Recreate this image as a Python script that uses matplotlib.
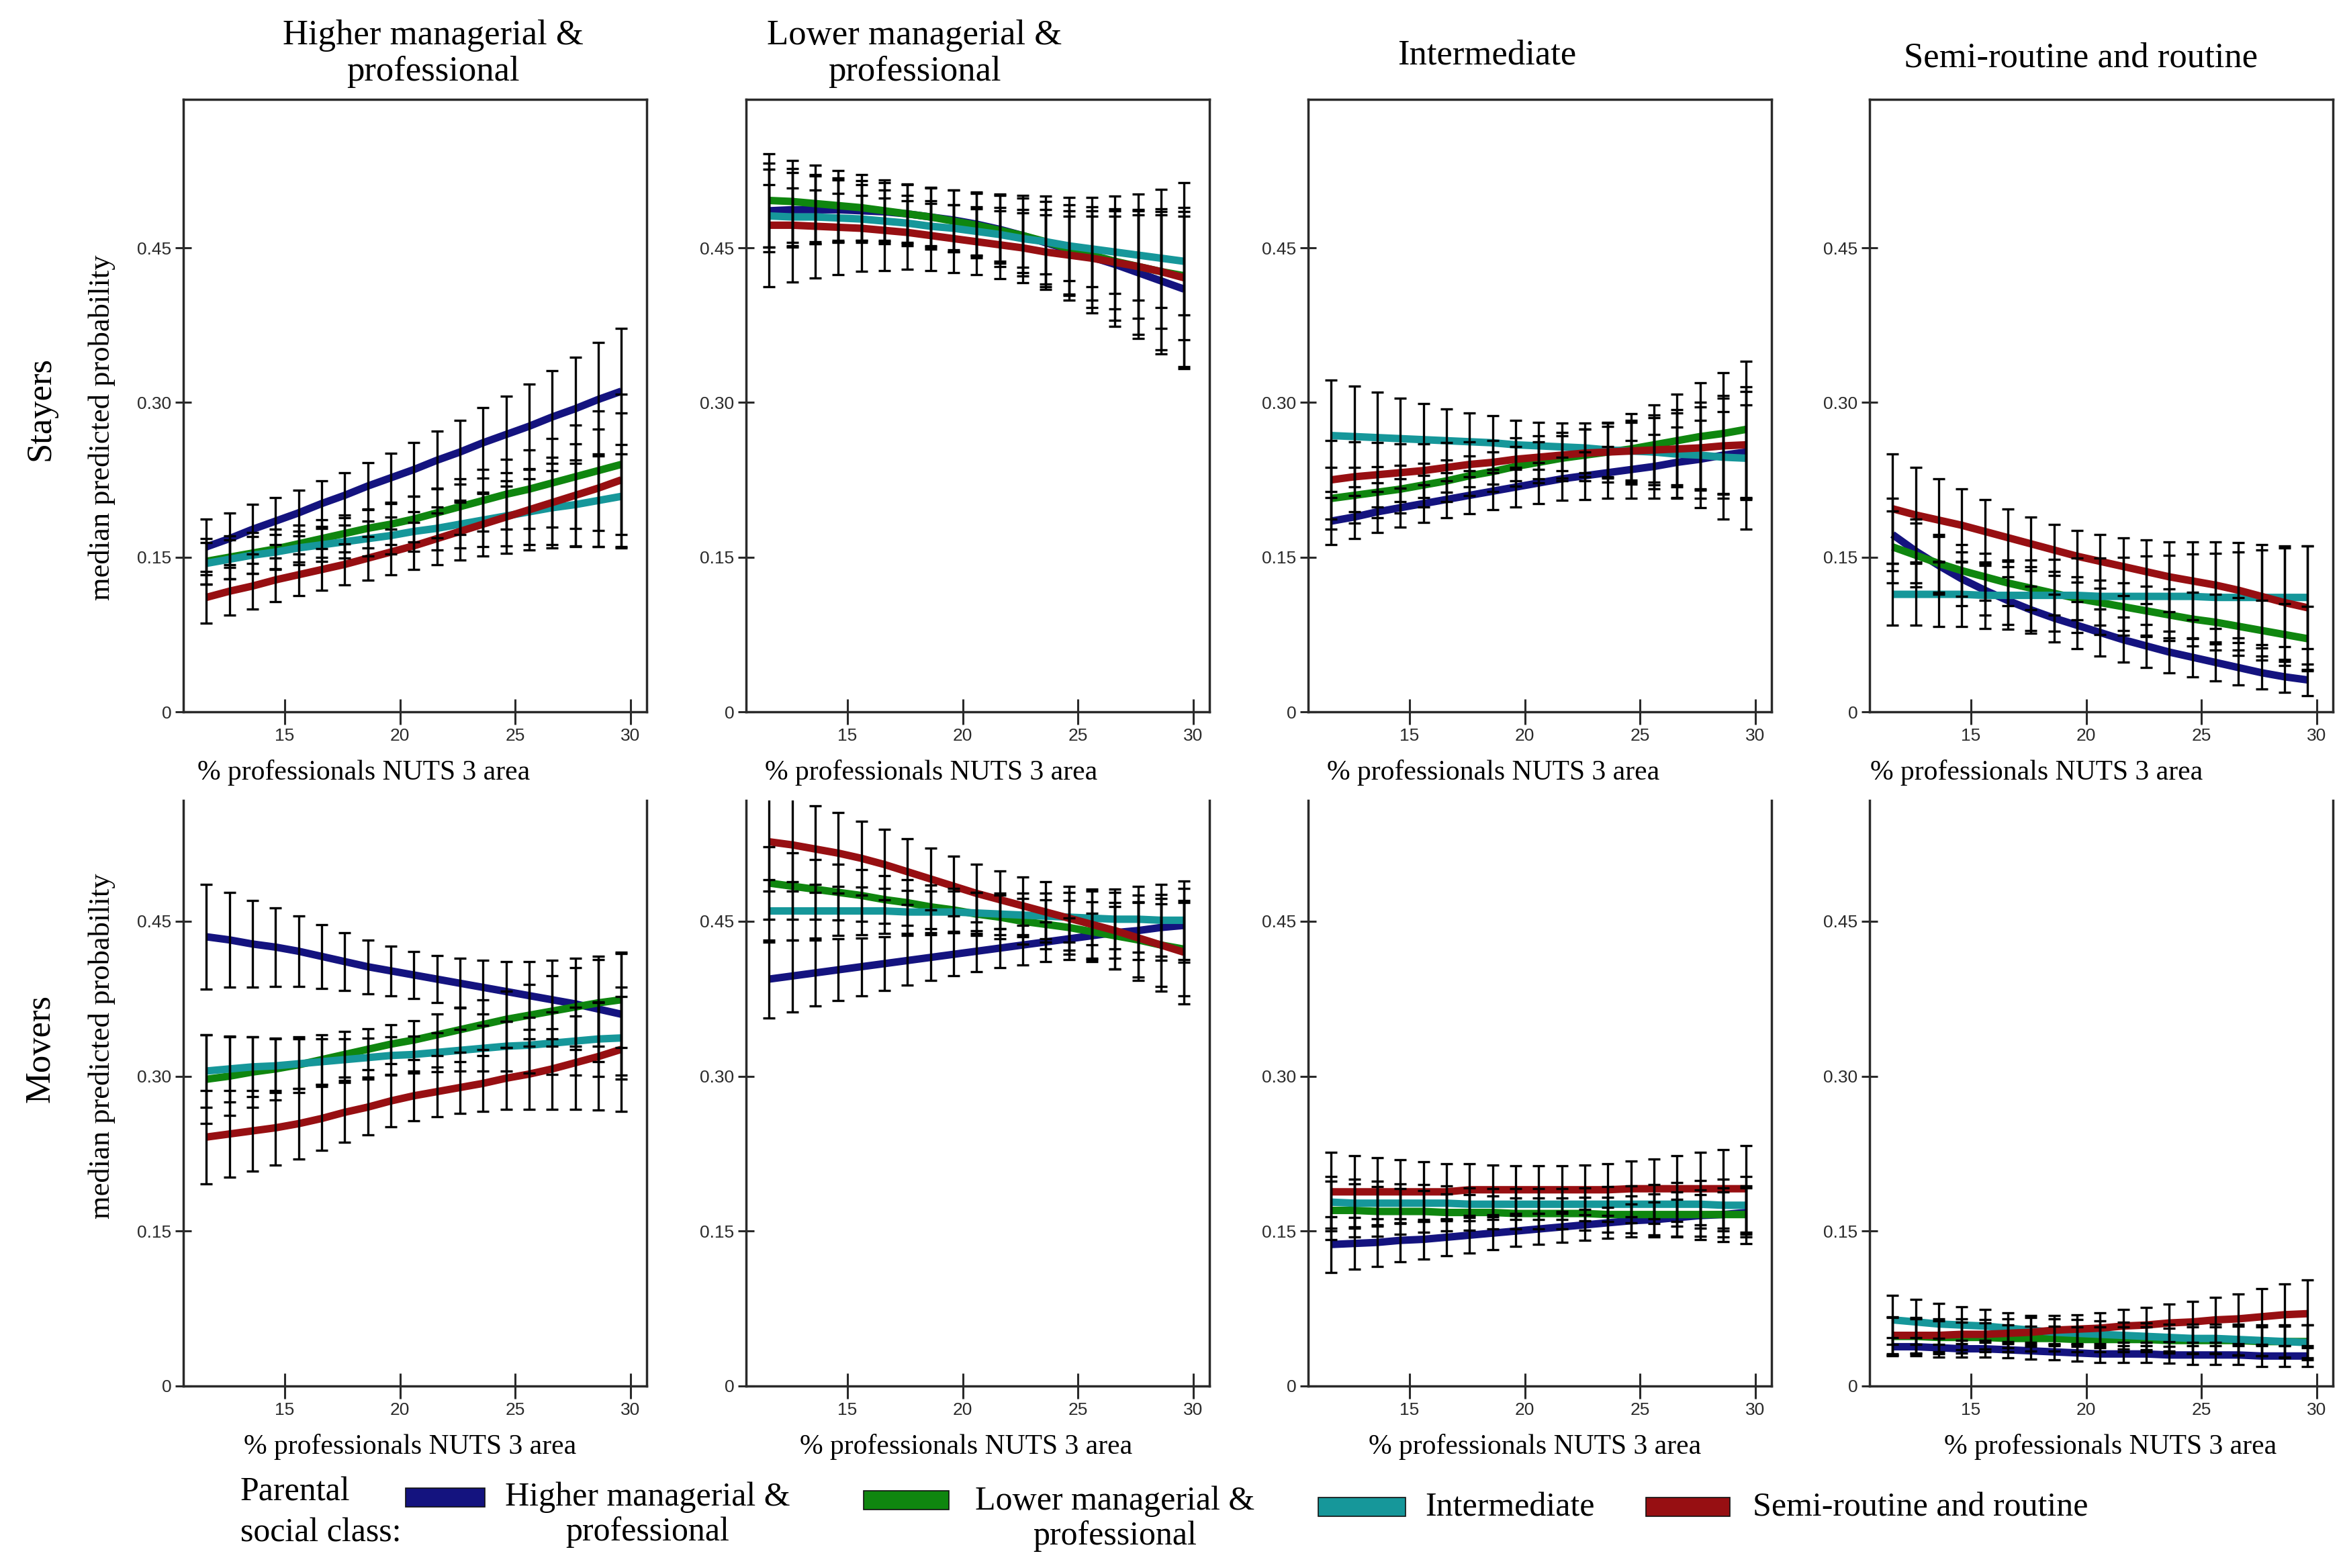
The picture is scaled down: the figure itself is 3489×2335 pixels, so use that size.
import matplotlib
matplotlib.use("Agg")
import matplotlib.pyplot as plt
from matplotlib.patches import Rectangle

plt.rcParams["font.family"] = ["Liberation Serif", "DejaVu Serif"]

# ── data ──────────────────────────────────────────────────────────────────────
PCT = [11.6, 12.6, 13.6, 14.6, 15.6, 16.6, 17.6, 18.6, 19.6, 20.6,
       21.6, 22.6, 23.6, 24.6, 25.6, 26.6, 27.6, 28.6, 29.6]

CLASSES = ["Higher managerial & professional", "Lower managerial & professional",
           "Intermediate", "Semi-routine and routine"]
LEGEND_LABELS = ["Higher managerial &\nprofessional", "Lower managerial &\nprofessional",
                 "Intermediate", "Semi-routine and routine"]
COLUMN_TITLES = ["Higher managerial &\nprofessional", "Lower managerial &\nprofessional",
                 "Intermediate", "Semi-routine and routine"]
ROW_NAMES = ["Stayers", "Movers"]
Y_TICKS = [0, 0.15, 0.30, 0.45]
Y_TICK_LABELS = ["0", "0.15", "0.30", "0.45"]
X_TICKS = [15, 20, 25, 30]

# median predicted probability, one list per parental class (blue, green, teal, red)
stay_higher = [
    [0.160, 0.168, 0.177, 0.185, 0.193, 0.202, 0.210, 0.219, 0.227, 0.235, 0.244, 0.252, 0.261, 0.269, 0.277, 0.286, 0.294, 0.303, 0.311],
    [0.146, 0.150, 0.154, 0.158, 0.163, 0.168, 0.173, 0.178, 0.182, 0.187, 0.193, 0.199, 0.205, 0.211, 0.216, 0.222, 0.228, 0.234, 0.240],
    [0.144, 0.148, 0.152, 0.155, 0.159, 0.162, 0.165, 0.168, 0.171, 0.175, 0.178, 0.182, 0.186, 0.190, 0.194, 0.198, 0.201, 0.205, 0.209],
    [0.111, 0.117, 0.122, 0.128, 0.133, 0.138, 0.143, 0.149, 0.155, 0.161, 0.168, 0.175, 0.182, 0.189, 0.196, 0.203, 0.210, 0.217, 0.225],
]
stay_higher_ci = [
    [0.027, 0.025, 0.024, 0.023, 0.022, 0.022, 0.022, 0.023, 0.024, 0.026, 0.028, 0.031, 0.034, 0.037, 0.041, 0.045, 0.050, 0.055, 0.061],
    [0.022, 0.021, 0.020, 0.019, 0.018, 0.018, 0.018, 0.019, 0.020, 0.022, 0.024, 0.027, 0.030, 0.034, 0.038, 0.043, 0.050, 0.058, 0.068],
    [0.020, 0.019, 0.018, 0.017, 0.016, 0.016, 0.016, 0.017, 0.018, 0.019, 0.021, 0.023, 0.026, 0.029, 0.032, 0.036, 0.040, 0.045, 0.050],
    [0.025, 0.023, 0.022, 0.021, 0.020, 0.020, 0.020, 0.021, 0.022, 0.023, 0.025, 0.028, 0.031, 0.035, 0.039, 0.044, 0.050, 0.057, 0.065],
]

stay_lower = [
    [0.486, 0.487, 0.487, 0.487, 0.486, 0.485, 0.483, 0.480, 0.477, 0.473, 0.468, 0.462, 0.455, 0.448, 0.441, 0.434, 0.426, 0.418, 0.410],
    [0.496, 0.495, 0.493, 0.491, 0.489, 0.486, 0.483, 0.480, 0.476, 0.472, 0.467, 0.462, 0.456, 0.449, 0.443, 0.437, 0.432, 0.427, 0.423],
    [0.481, 0.480, 0.480, 0.479, 0.478, 0.476, 0.474, 0.471, 0.469, 0.466, 0.463, 0.459, 0.456, 0.452, 0.449, 0.446, 0.443, 0.440, 0.437],
    [0.472, 0.472, 0.471, 0.470, 0.469, 0.467, 0.465, 0.462, 0.459, 0.456, 0.453, 0.450, 0.446, 0.443, 0.440, 0.436, 0.432, 0.427, 0.421],
]
stay_lower_ci = [
    [0.040, 0.036, 0.033, 0.031, 0.029, 0.028, 0.028, 0.028, 0.029, 0.030, 0.033, 0.036, 0.040, 0.044, 0.049, 0.054, 0.060, 0.067, 0.075],
    [0.045, 0.040, 0.037, 0.034, 0.032, 0.030, 0.029, 0.029, 0.030, 0.032, 0.035, 0.039, 0.044, 0.050, 0.056, 0.063, 0.070, 0.080, 0.090],
    [0.030, 0.028, 0.026, 0.024, 0.023, 0.022, 0.022, 0.022, 0.023, 0.024, 0.026, 0.028, 0.031, 0.034, 0.037, 0.040, 0.044, 0.048, 0.052],
    [0.060, 0.055, 0.050, 0.046, 0.042, 0.039, 0.036, 0.034, 0.033, 0.032, 0.033, 0.034, 0.036, 0.038, 0.041, 0.045, 0.050, 0.055, 0.060],
]

stay_inter = [
    [0.185, 0.189, 0.194, 0.198, 0.202, 0.206, 0.210, 0.214, 0.218, 0.222, 0.226, 0.229, 0.232, 0.235, 0.238, 0.242, 0.245, 0.249, 0.252],
    [0.207, 0.210, 0.213, 0.216, 0.220, 0.224, 0.229, 0.233, 0.238, 0.242, 0.246, 0.249, 0.252, 0.255, 0.259, 0.263, 0.267, 0.270, 0.274],
    [0.268, 0.267, 0.266, 0.265, 0.264, 0.263, 0.262, 0.261, 0.259, 0.258, 0.257, 0.256, 0.254, 0.253, 0.252, 0.250, 0.249, 0.247, 0.246],
    [0.225, 0.228, 0.230, 0.232, 0.234, 0.237, 0.240, 0.242, 0.245, 0.247, 0.249, 0.251, 0.252, 0.253, 0.254, 0.255, 0.256, 0.258, 0.259],
]
stay_inter_ci = [
    [0.023, 0.021, 0.020, 0.019, 0.018, 0.018, 0.018, 0.018, 0.019, 0.020, 0.021, 0.023, 0.025, 0.028, 0.031, 0.034, 0.038, 0.042, 0.046],
    [0.030, 0.027, 0.025, 0.023, 0.021, 0.020, 0.019, 0.019, 0.019, 0.020, 0.022, 0.025, 0.029, 0.034, 0.039, 0.045, 0.052, 0.059, 0.066],
    [0.054, 0.049, 0.044, 0.039, 0.035, 0.031, 0.028, 0.026, 0.024, 0.023, 0.023, 0.024, 0.026, 0.030, 0.036, 0.043, 0.051, 0.060, 0.069],
    [0.038, 0.034, 0.031, 0.028, 0.026, 0.024, 0.022, 0.021, 0.021, 0.021, 0.022, 0.023, 0.025, 0.028, 0.031, 0.035, 0.040, 0.046, 0.052],
]

stay_routine = [
    [0.172, 0.156, 0.142, 0.129, 0.118, 0.108, 0.099, 0.091, 0.084, 0.077, 0.070, 0.064, 0.058, 0.053, 0.048, 0.043, 0.038, 0.034, 0.031],
    [0.160, 0.152, 0.144, 0.137, 0.131, 0.125, 0.120, 0.115, 0.110, 0.106, 0.102, 0.098, 0.094, 0.090, 0.087, 0.083, 0.079, 0.075, 0.071],
    [0.114, 0.114, 0.114, 0.114, 0.113, 0.113, 0.113, 0.113, 0.113, 0.112, 0.112, 0.112, 0.112, 0.112, 0.111, 0.111, 0.111, 0.111, 0.111],
    [0.197, 0.191, 0.186, 0.181, 0.175, 0.169, 0.163, 0.157, 0.151, 0.146, 0.141, 0.136, 0.131, 0.127, 0.123, 0.118, 0.112, 0.106, 0.101],
]
stay_routine_ci = [
    [0.035, 0.031, 0.028, 0.026, 0.024, 0.023, 0.023, 0.023, 0.023, 0.023, 0.022, 0.021, 0.020, 0.019, 0.018, 0.017, 0.016, 0.015, 0.015],
    [0.035, 0.031, 0.028, 0.025, 0.023, 0.022, 0.021, 0.021, 0.021, 0.022, 0.023, 0.024, 0.025, 0.026, 0.027, 0.028, 0.029, 0.030, 0.031],
    [0.030, 0.030, 0.031, 0.031, 0.032, 0.033, 0.034, 0.035, 0.036, 0.037, 0.038, 0.039, 0.040, 0.041, 0.043, 0.044, 0.046, 0.048, 0.050],
    [0.053, 0.046, 0.040, 0.035, 0.031, 0.028, 0.026, 0.025, 0.025, 0.026, 0.028, 0.031, 0.034, 0.038, 0.042, 0.046, 0.050, 0.055, 0.060],
]

move_higher = [
    [0.435, 0.432, 0.428, 0.425, 0.421, 0.416, 0.411, 0.406, 0.402, 0.398, 0.394, 0.390, 0.386, 0.382, 0.378, 0.374, 0.370, 0.365, 0.360],
    [0.297, 0.300, 0.304, 0.307, 0.311, 0.316, 0.321, 0.326, 0.331, 0.335, 0.340, 0.345, 0.350, 0.355, 0.359, 0.363, 0.367, 0.371, 0.374],
    [0.305, 0.307, 0.309, 0.310, 0.312, 0.314, 0.316, 0.318, 0.320, 0.321, 0.323, 0.325, 0.327, 0.329, 0.330, 0.332, 0.334, 0.336, 0.337],
    [0.241, 0.244, 0.247, 0.250, 0.254, 0.259, 0.265, 0.270, 0.276, 0.281, 0.285, 0.289, 0.293, 0.298, 0.302, 0.307, 0.313, 0.319, 0.326],
]
move_higher_ci = [
    [0.051, 0.046, 0.042, 0.038, 0.034, 0.031, 0.028, 0.026, 0.024, 0.023, 0.023, 0.024, 0.026, 0.029, 0.033, 0.038, 0.044, 0.051, 0.059],
    [0.043, 0.038, 0.034, 0.030, 0.027, 0.024, 0.022, 0.020, 0.019, 0.019, 0.020, 0.022, 0.024, 0.027, 0.030, 0.034, 0.038, 0.042, 0.046],
    [0.035, 0.032, 0.029, 0.026, 0.024, 0.022, 0.020, 0.019, 0.018, 0.018, 0.019, 0.020, 0.022, 0.024, 0.027, 0.030, 0.033, 0.036, 0.040],
    [0.045, 0.042, 0.039, 0.036, 0.034, 0.031, 0.029, 0.027, 0.025, 0.024, 0.024, 0.025, 0.027, 0.030, 0.034, 0.039, 0.045, 0.052, 0.060],
]

move_lower = [
    [0.394, 0.397, 0.400, 0.403, 0.406, 0.409, 0.412, 0.415, 0.418, 0.421, 0.424, 0.427, 0.430, 0.433, 0.436, 0.439, 0.441, 0.444, 0.446],
    [0.487, 0.484, 0.481, 0.478, 0.475, 0.471, 0.468, 0.464, 0.461, 0.457, 0.454, 0.450, 0.447, 0.444, 0.440, 0.436, 0.432, 0.427, 0.423],
    [0.460, 0.460, 0.460, 0.460, 0.460, 0.460, 0.459, 0.459, 0.459, 0.458, 0.457, 0.456, 0.455, 0.454, 0.453, 0.452, 0.452, 0.451, 0.451],
    [0.527, 0.524, 0.520, 0.516, 0.511, 0.505, 0.498, 0.491, 0.484, 0.477, 0.471, 0.465, 0.459, 0.453, 0.447, 0.441, 0.434, 0.427, 0.420],
]
move_lower_ci = [
    [0.038, 0.035, 0.032, 0.030, 0.028, 0.026, 0.024, 0.022, 0.021, 0.020, 0.019, 0.019, 0.019, 0.020, 0.022, 0.025, 0.028, 0.032, 0.036],
    [0.035, 0.032, 0.029, 0.027, 0.025, 0.023, 0.022, 0.021, 0.021, 0.021, 0.021, 0.022, 0.024, 0.026, 0.029, 0.032, 0.036, 0.040, 0.045],
    [0.030, 0.028, 0.026, 0.024, 0.023, 0.022, 0.021, 0.020, 0.020, 0.020, 0.020, 0.021, 0.022, 0.024, 0.026, 0.029, 0.032, 0.035, 0.038],
    [0.048, 0.045, 0.042, 0.039, 0.036, 0.034, 0.032, 0.030, 0.029, 0.028, 0.028, 0.028, 0.029, 0.031, 0.034, 0.037, 0.041, 0.045, 0.050],
]

move_inter = [
    [0.137, 0.138, 0.139, 0.141, 0.142, 0.144, 0.146, 0.148, 0.150, 0.152, 0.154, 0.156, 0.158, 0.160, 0.161, 0.163, 0.165, 0.166, 0.168],
    [0.170, 0.170, 0.169, 0.169, 0.169, 0.168, 0.168, 0.168, 0.167, 0.167, 0.167, 0.167, 0.166, 0.166, 0.166, 0.166, 0.166, 0.166, 0.166],
    [0.178, 0.177, 0.177, 0.177, 0.177, 0.177, 0.176, 0.176, 0.176, 0.176, 0.176, 0.176, 0.176, 0.176, 0.176, 0.176, 0.176, 0.175, 0.175],
    [0.188, 0.188, 0.188, 0.188, 0.188, 0.188, 0.190, 0.190, 0.190, 0.190, 0.190, 0.190, 0.190, 0.191, 0.191, 0.191, 0.191, 0.191, 0.191],
]
move_inter_ci = [
    [0.027, 0.025, 0.023, 0.021, 0.019, 0.018, 0.017, 0.016, 0.015, 0.015, 0.015, 0.015, 0.015, 0.016, 0.017, 0.018, 0.020, 0.022, 0.024],
    [0.028, 0.026, 0.024, 0.022, 0.020, 0.018, 0.017, 0.016, 0.015, 0.015, 0.015, 0.016, 0.017, 0.018, 0.020, 0.022, 0.024, 0.026, 0.028],
    [0.025, 0.023, 0.021, 0.019, 0.018, 0.017, 0.016, 0.015, 0.015, 0.015, 0.015, 0.016, 0.017, 0.018, 0.019, 0.021, 0.023, 0.025, 0.028],
    [0.038, 0.035, 0.033, 0.031, 0.029, 0.027, 0.025, 0.024, 0.023, 0.023, 0.023, 0.024, 0.025, 0.027, 0.029, 0.032, 0.035, 0.038, 0.042],
]

move_routine = [
    [0.038, 0.038, 0.037, 0.036, 0.036, 0.035, 0.034, 0.033, 0.032, 0.031, 0.031, 0.031, 0.030, 0.030, 0.030, 0.030, 0.029, 0.029, 0.029],
    [0.048, 0.048, 0.047, 0.047, 0.047, 0.046, 0.046, 0.046, 0.045, 0.045, 0.045, 0.045, 0.044, 0.044, 0.044, 0.044, 0.043, 0.043, 0.043],
    [0.064, 0.062, 0.060, 0.059, 0.058, 0.056, 0.054, 0.052, 0.051, 0.050, 0.049, 0.048, 0.047, 0.046, 0.046, 0.045, 0.044, 0.043, 0.042],
    [0.049, 0.049, 0.049, 0.050, 0.050, 0.051, 0.052, 0.054, 0.055, 0.056, 0.058, 0.059, 0.061, 0.062, 0.064, 0.065, 0.067, 0.069, 0.070],
]
move_routine_ci = [
    [0.009, 0.009, 0.009, 0.008, 0.008, 0.008, 0.008, 0.008, 0.008, 0.008, 0.008, 0.008, 0.008, 0.009, 0.009, 0.009, 0.010, 0.010, 0.010],
    [0.018, 0.017, 0.016, 0.015, 0.014, 0.013, 0.012, 0.012, 0.012, 0.012, 0.012, 0.012, 0.012, 0.013, 0.013, 0.014, 0.014, 0.015, 0.016],
    [0.024, 0.022, 0.020, 0.018, 0.016, 0.015, 0.014, 0.013, 0.013, 0.013, 0.013, 0.013, 0.013, 0.014, 0.014, 0.015, 0.015, 0.016, 0.017],
    [0.018, 0.017, 0.016, 0.015, 0.014, 0.014, 0.014, 0.014, 0.014, 0.015, 0.016, 0.017, 0.018, 0.020, 0.022, 0.024, 0.027, 0.030, 0.033],
]

PANELS = [
    [(stay_higher, stay_higher_ci), (stay_lower, stay_lower_ci),
     (stay_inter, stay_inter_ci), (stay_routine, stay_routine_ci)],
    [(move_higher, move_higher_ci), (move_lower, move_lower_ci),
     (move_inter, move_inter_ci), (move_routine, move_routine_ci)],
]

# ── style ─────────────────────────────────────────────────────────────────────
COLORS = ["#14137f", "#0f860f", "#16979a", "#970f12"]
SPINE = "#2a2a2a"
TICK_FONT = ["Liberation Sans Narrow", "Liberation Sans", "DejaVu Sans"]

W, H = 3489, 2335
fig = plt.figure(figsize=(W / 100, H / 100), dpi=100)
fig.patch.set_facecolor("white")

col_left = [0.0782, 0.3184, 0.5583, 0.7979]
col_w = 0.1978
rows = [dict(bottom=0.5460, height=0.3906, ytop=0.594),
        dict(bottom=0.1161, height=0.3734, ytop=0.567)]
xlabel_x = [[0.39, 0.40, 0.40, 0.36], [0.49, 0.475, 0.49, 0.52]]
xlabel_y = [-0.078, -0.081]

for r, row in enumerate(rows):
    for c in range(4):
        ax = fig.add_axes([col_left[c], row["bottom"], col_w, row["height"]])
        med, ci = PANELS[r][c]
        for k in range(4):
            ax.plot(PCT, med[k], color=COLORS[k], lw=8, solid_capstyle="butt", zorder=2)
        for k in range(4):
            ax.errorbar(PCT, med[k], yerr=ci[k], fmt="none", ecolor="black",
                        elinewidth=2.4, capsize=6.5, capthick=2.4, zorder=3)
        ax.set_xlim(10.6, 30.7)
        ax.set_ylim(0, row["ytop"])
        ax.set_yticks(Y_TICKS, Y_TICK_LABELS, fontfamily=TICK_FONT, fontsize=19, color="#333333")
        ax.set_xticks(X_TICKS, [str(t) for t in X_TICKS], fontfamily=TICK_FONT,
                      fontsize=19, color="#333333")
        ax.tick_params(axis="y", direction="inout", length=17, width=2.2, pad=4, colors=SPINE)
        ax.tick_params(axis="x", direction="inout", length=27, width=2.2, pad=4, colors=SPINE)
        for name, sp in ax.spines.items():
            sp.set_color(SPINE)
            sp.set_linewidth(2.5)
        if r == 1:
            ax.spines["top"].set_visible(False)
        ax.set_xlabel("% professionals NUTS 3 area", fontsize=30,
                      fontfamily=["Liberation Serif", "DejaVu Serif"])
        ax.xaxis.set_label_coords(xlabel_x[r][c], xlabel_y[r])

# column titles
title_x = [645, 1362, 2214, 3099]
title_y = [80, 80, 82, 86]
for c, t in enumerate(COLUMN_TITLES):
    fig.text(title_x[c] / W, 1 - title_y[c] / H, t, ha="center", va="center",
             fontsize=38, linespacing=1.15)

# row labels and y axis labels
for name, yc, ylab in zip(ROW_NAMES, [608, 1562], [637, 1558]):
    fig.text(60 / W, 1 - yc / H, name, rotation=90, ha="center", va="center", fontsize=38)
    fig.text(152 / W, 1 - ylab / H, "median predicted probability", rotation=90,
             ha="center", va="center", fontsize=32)

# legend
fig.text(358 / W, 1 - 2222 / H, "Parental", ha="left", va="center", fontsize=36)
fig.text(358 / W, 1 - 2283 / H, "social class:", ha="left", va="center", fontsize=36)
patch_x = [604, 1286, 1963, 2451]
patch_w = [118, 127, 130, 125]
patch_y = [2216, 2220, 2230, 2230]
text_x = [752, 1452, 2122, 2610]
text_y = [2256, 2262, 2245, 2245]
for k, lab in enumerate(LEGEND_LABELS):
    rect = Rectangle((patch_x[k] / W, 1 - (patch_y[k] + 28) / H), patch_w[k] / W, 28 / H,
                     transform=fig.transFigure, facecolor=COLORS[k],
                     edgecolor="#111111", linewidth=1.2)
    fig.add_artist(rect)
    fig.text(text_x[k] / W, 1 - text_y[k] / H, lab, ha="left", va="center",
             multialignment="center", fontsize=36, linespacing=1.15)

fig.savefig("out.png", dpi=100, facecolor="white")
